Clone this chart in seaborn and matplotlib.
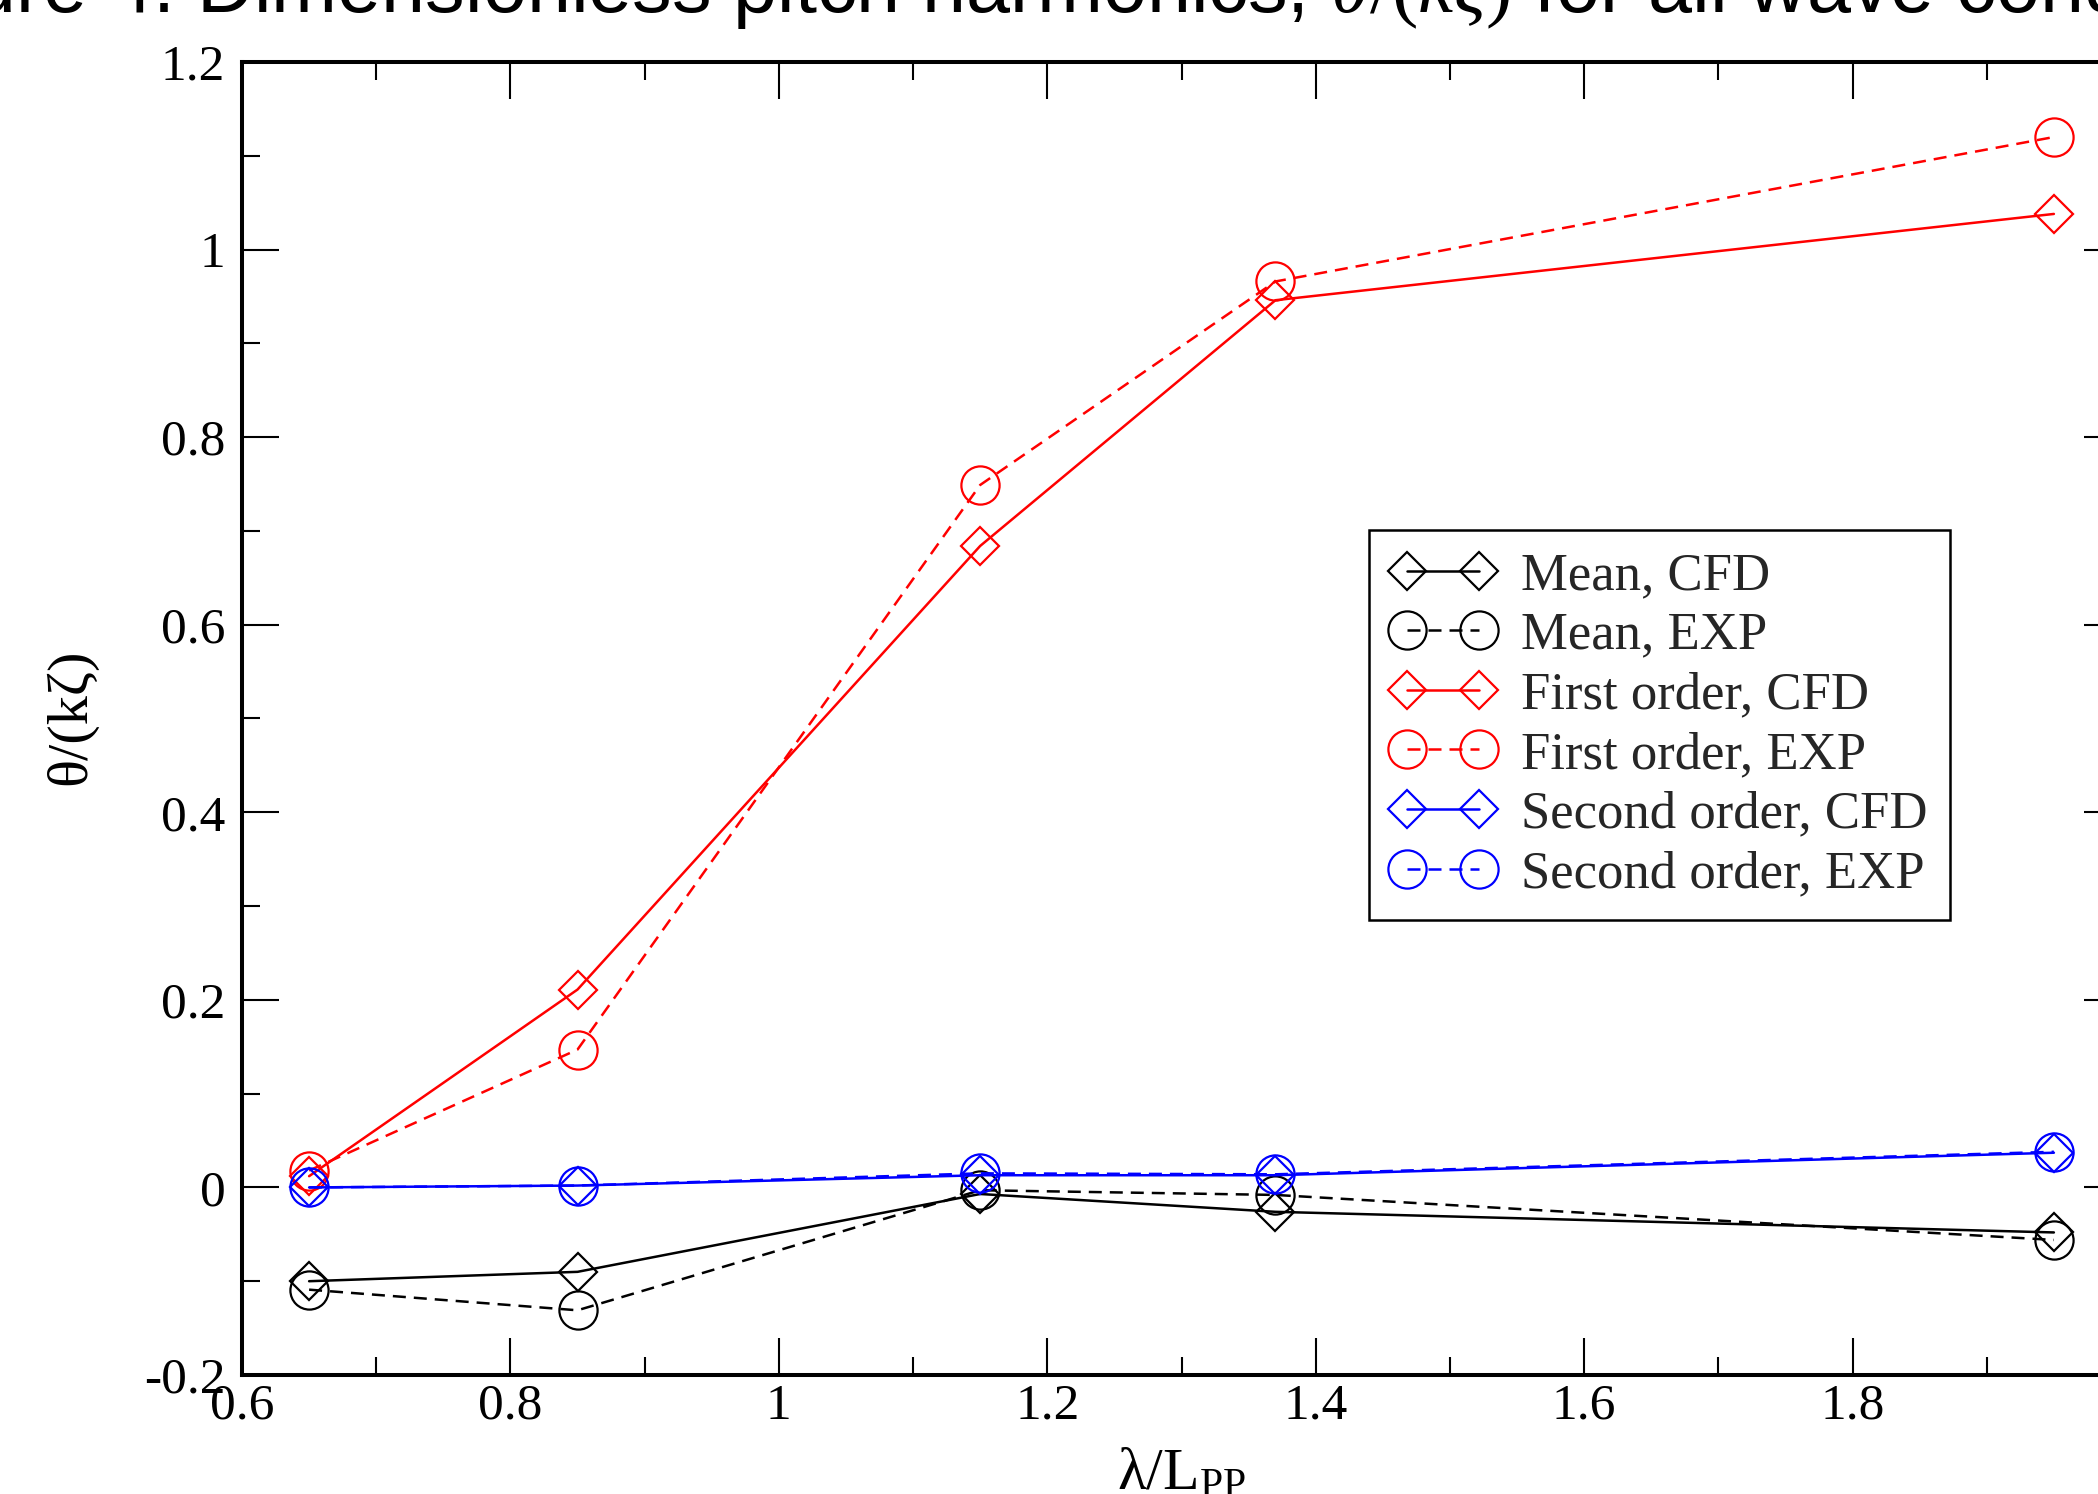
import seaborn as sns
import matplotlib.pyplot as plt
from matplotlib.ticker import MultipleLocator, FuncFormatter
import pandas as pd

# wave length / ship length
wave_len = [0.65, 0.85, 1.15, 1.37, 1.95]

mean_cfd = [-0.100, -0.090, -0.007, -0.026, -0.048]
mean_exp = [-0.109, -0.131, -0.003, -0.008, -0.056]
first_cfd = [0.012, 0.211, 0.684, 0.946, 1.038]
first_exp = [0.018, 0.147, 0.749, 0.966, 1.120]
second_cfd = [0.0, 0.002, 0.013, 0.013, 0.037]
second_exp = [0.0, 0.002, 0.015, 0.014, 0.038]

labels = ["Mean, CFD", "Mean, EXP", "First order, CFD", "First order, EXP",
          "Second order, CFD", "Second order, EXP"]
values = [mean_cfd, mean_exp, first_cfd, first_exp, second_cfd, second_exp]
colors = ["black", "black", "#ff0000", "#ff0000", "#0000ff", "#0000ff"]
markers = ["D", "o", "D", "o", "D", "o"]

sns.set_theme(style="ticks")
plt.rcParams["font.family"] = ["Liberation Serif", "DejaVu Serif"]
plt.rcParams["mathtext.fontset"] = "custom"
plt.rcParams["mathtext.rm"] = "Liberation Serif"
plt.rcParams["mathtext.it"] = "Liberation Serif:italic"
plt.rcParams["axes.unicode_minus"] = False

fig = plt.figure(figsize=(20.98, 14.94), dpi=100)
ax = fig.add_axes([242 / 2098, 119 / 1494, 1879 / 2098, 1313 / 1494])

for lab, vals, col, mk in zip(labels, values, colors, markers):
    df = pd.DataFrame({"x": wave_len, "y": vals})
    dashed = "EXP" in lab
    sns.lineplot(data=df, x="x", y="y", ax=ax, color=col, label=lab,
                 marker=mk, markersize=19.5 if mk == "D" else 27.5,
                 mfc="none", mec=col, mew=1.6, lw=1.8,
                 dashes=(5.2, 3.2) if dashed else "", sort=False)

ax.set_xlim(0.6, 2.0)
ax.set_ylim(-0.2, 1.2)
ax.xaxis.set_major_locator(MultipleLocator(0.2))
ax.xaxis.set_minor_locator(MultipleLocator(0.1))
ax.yaxis.set_major_locator(MultipleLocator(0.2))
ax.yaxis.set_minor_locator(MultipleLocator(0.1))
fmt = FuncFormatter(lambda v, _: f"{round(v, 2) + 0:g}")
ax.xaxis.set_major_formatter(fmt)
ax.yaxis.set_major_formatter(fmt)

ax.tick_params(which="both", direction="in", top=True, right=True,
               width=1.5, color="black", labelsize=37, labelcolor="black")
ax.tick_params(which="major", length=26.5)
ax.tick_params(which="minor", length=13)
ax.tick_params(axis="x", pad=6)
ax.tick_params(axis="y", pad=12)
for sp in ax.spines.values():
    sp.set_linewidth(2.9)
    sp.set_color("black")

ax.set_xlabel("λ/L$_{\\mathrm{PP}}$", fontsize=43, color="black")
ax.set_ylabel("θ/(kζ)", fontsize=42, color="black")
ax.xaxis.set_label_coords(0.5, -0.056)
ax.yaxis.set_label_coords(-0.077, 0.501)

ax.legend(loc="upper left", bbox_to_anchor=(0.600, 0.6436), borderaxespad=0,
          numpoints=2, handlelength=1.96, handletextpad=0.49, labelspacing=0.22,
          borderpad=0.42, fontsize=38, frameon=True, fancybox=False,
          framealpha=1, edgecolor="black")
ax.get_legend().get_frame().set_linewidth(1.8)

fig.text(-0.066, 1 - 12 / 1494,
         "Figure 4. Dimensionless pitch harmonics, $\\theta/(k\\zeta)$ for all wave conditions",
         fontsize=57, family="Liberation Sans", va="baseline", ha="left", color="black")

fig.savefig("out.png", dpi=100)
